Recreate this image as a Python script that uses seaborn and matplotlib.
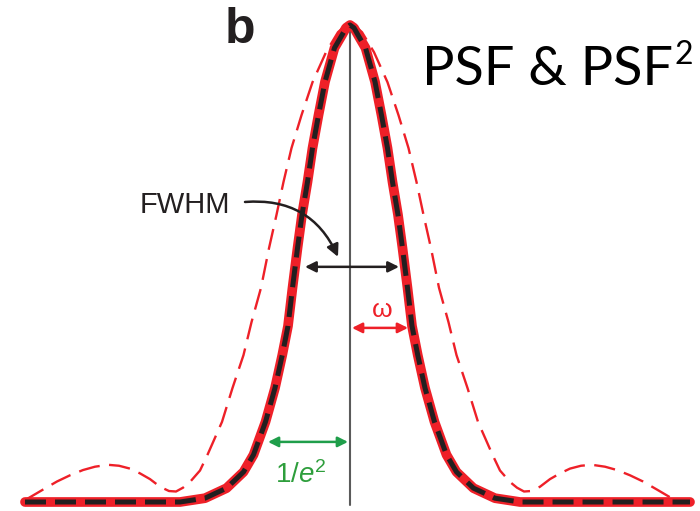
import numpy as np
import pandas as pd
import seaborn as sns
import matplotlib
matplotlib.use("Agg")
import matplotlib.pyplot as plt
from matplotlib.patches import FancyArrowPatch

# ---- data (offset from centre in px, normalised intensity) ----
psf2_offsets = [0, 4, 8, 15.5, 25, 31.5, 37.5, 42.5, 48, 52.5, 57.5, 62, 67.75, 75,
                84.5, 96.5, 106.5, 123.5, 145, 170, 220, 280, 325]
psf2_values = [1.0, 0.994, 0.979, 0.952, 0.881, 0.811, 0.742, 0.671, 0.602, 0.532, 0.449,
               0.369, 0.308, 0.239, 0.168, 0.099, 0.063, 0.029, 0.008, 0.0, 0.0, 0.0, 0.0]
psf2_right_end = 340

psf_offsets = [0, 6, 12, 24, 37.5, 48.5, 58.5, 66.5, 73.5, 81, 89, 98.5, 106.5, 117.5,
               128, 142.5, 150, 160, 167, 174, 181, 190, 200, 210, 220, 231, 242,
               255, 267, 280, 293, 307, 320, 325]
psf_values = [1.0, 0.996, 0.985, 0.943, 0.880, 0.811, 0.742, 0.671, 0.602, 0.532, 0.449,
              0.377, 0.308, 0.239, 0.168, 0.099, 0.066, 0.042, 0.030, 0.022, 0.023,
              0.032, 0.048, 0.060, 0.070, 0.076, 0.078, 0.074, 0.067, 0.056, 0.043,
              0.026, 0.010, 0.004]

fwhm_half = [-45, 49]
omega_span = [2, 58]
e2_span = [-82, -2]

def full_curve(offs, vals):
    offs = np.asarray(offs, float)
    vals = np.asarray(vals, float)
    x = np.concatenate([-offs[::-1], offs[1:]])
    y = np.concatenate([vals[::-1], vals[1:]])
    return x, y

x2, y2 = full_curve(psf2_offsets, psf2_values)
x2[-1] = psf2_right_end
x1, y1 = full_curve(psf_offsets, psf_values)

df2 = pd.DataFrame({"x": x2, "y": y2})
df1 = pd.DataFrame({"x": x1, "y": y1})

sns.set_theme(style="white")
plt.rcParams["mathtext.fontset"] = "custom"
plt.rcParams["mathtext.rm"] = "Liberation Sans"
plt.rcParams["mathtext.it"] = "Liberation Sans:italic"
plt.rcParams["font.family"] = ["Liberation Sans", "DejaVu Sans"]

fig = plt.figure(figsize=(7.0, 5.11), dpi=100)
ax = fig.add_axes([0, 0, 1, 1])
ax.set_xlim(-350, 350)
ax.set_ylim(-9 / 477, 502 / 477)
ax.axis("off")

RED = "#ee2028"
BLACK = "#231f20"
GREEN = "#1f9e4a"

# centre line
ax.plot([0, 0], [-0.006, 1.0], color="#5a5a5a", lw=1.5, zorder=1)

# PSF (thin dashed)
sns.lineplot(data=df1, x="x", y="y", ax=ax, color=RED, lw=1.7, estimator=None,
             sort=False, linestyle=(0, (9, 4)), dash_joinstyle="round", zorder=2)
# PSF^2 thick red
sns.lineplot(data=df2, x="x", y="y", ax=ax, color=RED, lw=7.0, estimator=None,
             sort=False, solid_capstyle="round", solid_joinstyle="round", zorder=3)
# black dashed overlay
sns.lineplot(data=df2, x="x", y="y", ax=ax, color=BLACK, lw=3.6, estimator=None,
             sort=False, linestyle=(0, (4.2, 1.8)), dash_joinstyle="round", zorder=4)

# texts
ax.text(-125, 0.962, "b", fontsize=36, fontweight="bold", color=BLACK,
        ha="left", va="baseline", family="Liberation Sans")
t = ax.text(72, 0.874, "PSF & PSF", fontsize=39, color="black", ha="left",
            va="baseline", family="Lato")
fig.canvas.draw()
bb = t.get_window_extent(renderer=fig.canvas.get_renderer())
x_right = ax.transData.inverted().transform((bb.x1, bb.y0))[0]
ax.text(x_right + 2, 0.918, "2", fontsize=23, color="black", ha="left",
        va="baseline", family="Lato")

ax.text(-210, 0.606, "FWHM", fontsize=21, color=BLACK, ha="left", va="baseline")

# FWHM double arrow
ax.annotate("", xy=(fwhm_half[0], 0.493), xytext=(fwhm_half[1], 0.493),
            arrowprops=dict(arrowstyle="<|-|>", color=BLACK, lw=1.8,
                            mutation_scale=16, shrinkA=0, shrinkB=0), zorder=6)
# curved FWHM pointer
arr = FancyArrowPatch((-105, 0.629), (-12, 0.514), connectionstyle="arc3,rad=-0.35",
                      arrowstyle="-|>", mutation_scale=18, color=BLACK, lw=1.8,
                      shrinkA=0, shrinkB=0, zorder=6)
ax.add_patch(arr)

# omega
ax.annotate("", xy=(omega_span[0], 0.365), xytext=(omega_span[1], 0.365),
            arrowprops=dict(arrowstyle="<|-|>", color=RED, lw=1.8,
                            mutation_scale=15, shrinkA=0, shrinkB=0), zorder=6)
ax.text(32, 0.388, "ω", fontsize=19, color=RED, ha="center", va="baseline")

# 1/e^2
ax.annotate("", xy=(e2_span[0], 0.126), xytext=(e2_span[1], 0.126),
            arrowprops=dict(arrowstyle="<|-|>", color=GREEN, lw=1.8,
                            mutation_scale=15, shrinkA=0, shrinkB=0), zorder=6)
ax.text(-75, 0.040, r"$\mathit{1/e}^{\mathit{2}}$", fontsize=20, color="#2e9e3c",
        ha="left", va="baseline")

fig.savefig("out.png", dpi=100)
